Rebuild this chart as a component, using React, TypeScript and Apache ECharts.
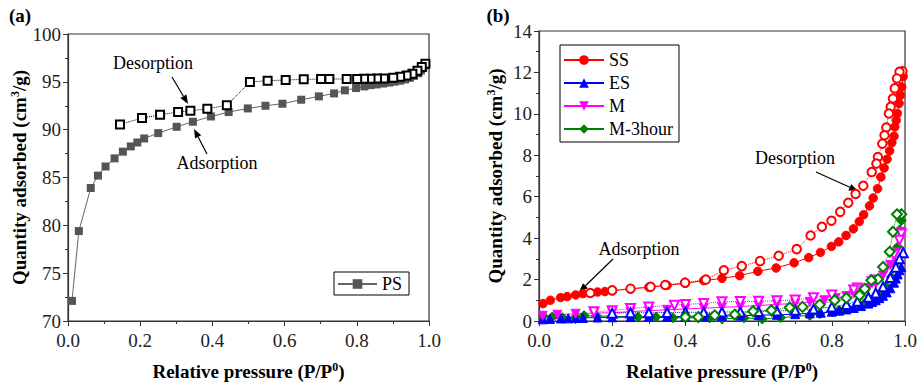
import React, { useEffect, useRef } from "react";
import * as echarts from "echarts";

// ---------- Panel (a): PS ----------
const psAdsX = [0.011, 0.030, 0.063, 0.083, 0.104, 0.129, 0.152, 0.174, 0.192, 0.211, 0.250, 0.301, 0.346, 0.396, 0.445, 0.498, 0.547, 0.594, 0.646, 0.695, 0.737, 0.767, 0.798, 0.821, 0.838, 0.855, 0.873, 0.890, 0.905, 0.920, 0.934, 0.947, 0.958, 0.970, 0.978, 0.984, 0.989, 0.992];
const psAdsY = [72.1, 79.4, 83.9, 85.2, 86.15, 87.0, 87.7, 88.25, 88.66, 89.08, 89.64, 90.30, 90.83, 91.38, 91.84, 92.22, 92.50, 92.71, 93.13, 93.48, 93.79, 94.11, 94.35, 94.52, 94.66, 94.73, 94.82, 94.92, 95.02, 95.12, 95.25, 95.42, 95.62, 95.9, 96.2, 96.5, 96.75, 96.97];
const psDesX = [0.990, 0.980, 0.968, 0.954, 0.938, 0.920, 0.901, 0.875, 0.856, 0.838, 0.820, 0.801, 0.772, 0.724, 0.701, 0.653, 0.603, 0.553, 0.504, 0.440, 0.386, 0.339, 0.305, 0.255, 0.205, 0.144];
const psDesY = [96.9, 96.55, 96.16, 95.85, 95.67, 95.53, 95.43, 95.36, 95.34, 95.33, 95.32, 95.30, 95.29, 95.29, 95.29, 95.26, 95.19, 95.12, 94.98, 92.54, 92.19, 91.98, 91.84, 91.56, 91.21, 90.55];

// ---------- Panel (b) ----------
const ssAdsX = [0.011, 0.031, 0.059, 0.077, 0.10, 0.12, 0.16, 0.18, 0.20, 0.25, 0.30, 0.35, 0.40, 0.45, 0.50, 0.548, 0.598, 0.648, 0.697, 0.737, 0.769, 0.799, 0.819, 0.839, 0.859, 0.875, 0.887, 0.903, 0.913, 0.925, 0.934, 0.943, 0.951, 0.958, 0.964, 0.970, 0.972, 0.976, 0.979, 0.984, 0.988, 0.991, 0.995];
const ssAdsY = [0.84, 1.0, 1.13, 1.18, 1.26, 1.32, 1.40, 1.42, 1.46, 1.55, 1.63, 1.72, 1.82, 1.95, 2.06, 2.19, 2.40, 2.56, 2.81, 3.06, 3.31, 3.60, 3.82, 4.13, 4.45, 4.80, 5.13, 5.56, 5.94, 6.39, 6.95, 7.39, 7.81, 8.21, 8.61, 8.92, 9.37, 9.69, 10.02, 10.5, 10.9, 11.3, 11.8];
const ssDesX = [0.993, 0.985, 0.978, 0.972, 0.967, 0.961, 0.956, 0.949, 0.944, 0.938, 0.926, 0.922, 0.909, 0.886, 0.865, 0.845, 0.823, 0.799, 0.773, 0.742, 0.704, 0.655, 0.604, 0.554, 0.505, 0.456, 0.399, 0.345, 0.305, 0.25, 0.20, 0.14];
const ssDesY = [12.06, 12.03, 11.71, 11.23, 10.74, 10.34, 10.02, 9.34, 8.97, 8.56, 7.92, 7.6, 7.19, 6.53, 6.13, 5.71, 5.27, 4.84, 4.55, 4.13, 3.47, 3.15, 2.89, 2.65, 2.45, 2.0, 1.85, 1.74, 1.65, 1.56, 1.48, 1.35];

const esAdsX = [0.01, 0.03, 0.06, 0.08, 0.10, 0.12, 0.16, 0.20, 0.25, 0.30, 0.35, 0.40, 0.45, 0.50, 0.55, 0.60, 0.65, 0.70, 0.74, 0.77, 0.80, 0.82, 0.84, 0.86, 0.88, 0.90, 0.91, 0.92, 0.93, 0.94, 0.95, 0.96, 0.97, 0.975, 0.98, 0.985, 0.99];
const esAdsY = [0.08, 0.10, 0.12, 0.13, 0.14, 0.15, 0.17, 0.18, 0.19, 0.20, 0.21, 0.22, 0.23, 0.24, 0.26, 0.28, 0.30, 0.33, 0.37, 0.40, 0.45, 0.50, 0.56, 0.63, 0.72, 0.84, 0.92, 1.0, 1.1, 1.22, 1.38, 1.58, 1.85, 2.05, 2.25, 2.45, 2.6];
const esDesX = [0.995, 0.985, 0.975, 0.96, 0.94, 0.92, 0.90, 0.87, 0.84, 0.80, 0.75, 0.70, 0.65, 0.60, 0.55, 0.50, 0.45, 0.40, 0.35, 0.30, 0.25, 0.20];
const esDesY = [3.3, 3.0, 2.6, 2.1, 1.65, 1.35, 1.15, 0.95, 0.8, 0.68, 0.58, 0.52, 0.48, 0.46, 0.44, 0.43, 0.42, 0.42, 0.41, 0.40, 0.40, 0.38];

const mAdsX = [0.01, 0.05, 0.10, 0.15, 0.20, 0.25, 0.30, 0.35, 0.40, 0.45, 0.50, 0.55, 0.60, 0.65, 0.70, 0.74, 0.78, 0.81, 0.84, 0.86, 0.88, 0.90, 0.92, 0.94, 0.96, 0.975, 0.985, 0.99];
const mAdsY = [0.25, 0.30, 0.35, 0.38, 0.40, 0.45, 0.50, 0.54, 0.58, 0.62, 0.66, 0.70, 0.75, 0.80, 0.85, 0.92, 1.0, 1.1, 1.2, 1.32, 1.45, 1.6, 1.8, 2.2, 2.7, 3.3, 3.9, 4.3];
const mDesX = [0.99, 0.985, 0.97, 0.945, 0.918, 0.91, 0.87, 0.86, 0.80, 0.75, 0.70, 0.65, 0.60, 0.55, 0.50, 0.45, 0.40, 0.37, 0.30, 0.25, 0.20, 0.15];
const mDesY = [4.2, 3.9, 3.2, 2.46, 1.98, 1.9, 1.59, 1.5, 1.25, 1.12, 1.01, 0.98, 0.95, 0.94, 0.93, 0.85, 0.80, 0.76, 0.68, 0.60, 0.50, 0.45];

const m3AdsX = [0.011, 0.036, 0.064, 0.10, 0.123, 0.157, 0.20, 0.27, 0.32, 0.366, 0.466, 0.50, 0.56, 0.61, 0.66, 0.74, 0.767, 0.80, 0.82, 0.845, 0.867, 0.89, 0.912, 0.935, 0.949, 0.963, 0.972, 0.98, 0.985, 0.99];
const m3AdsY = [0.24, 0.19, 0.16, 0.19, 0.26, 0.24, 0.23, 0.19, 0.19, 0.16, 0.15, 0.11, 0.15, 0.10, 0.16, 0.27, 0.35, 0.45, 0.52, 0.6, 0.68, 0.84, 1.0, 1.32, 1.65, 2.13, 2.77, 3.58, 4.39, 4.85];
const m3DesX = [0.99, 0.978, 0.967, 0.958, 0.94, 0.926, 0.908, 0.89, 0.876, 0.84, 0.808, 0.767, 0.72, 0.685, 0.635, 0.585, 0.535, 0.48, 0.435, 0.40];
const m3DesY = [5.15, 5.15, 4.31, 3.34, 2.61, 2.02, 1.97, 1.55, 1.24, 1.11, 1.0, 0.79, 0.68, 0.65, 0.52, 0.47, 0.31, 0.27, 0.19, 0.19];

const zip = (xs: number[], ys: number[]) => xs.map((x, i) => [x, ys[i]]);

const FONT = "'Liberation Serif', 'Times New Roman', serif";
const AX = "#333";

function arrow(x1: number, y1: number, x2: number, y2: number) {
  const a = Math.atan2(y2 - y1, x2 - x1);
  const L = 9, W = 3.5;
  const c = Math.cos(a), s = Math.sin(a);
  const bx = x2 - L * c, by = y2 - L * s;
  return [
    { type: "line", shape: { x1, y1, x2: bx, y2: by }, style: { stroke: "#000", lineWidth: 1.2 } },
    { type: "polygon", shape: { points: [[x2, y2], [bx + W * s, by - W * c], [bx - W * s, by + W * c]] }, style: { fill: "#000" } },
  ];
}

function label(text: string, x: number, y: number, bold = false, size = 18) {
  return {
    type: "text", x, y,
    style: { text, font: `${bold ? "bold " : ""}${size}px ${FONT}`, fill: "#000", textAlign: "center", textVerticalAlign: "middle" },
  };
}

function xAxisCfg(gi: number) {
  return {
    type: "value", gridIndex: gi, min: 0, max: 1, interval: 0.2,
    axisLine: { lineStyle: { color: AX, width: 1.2 } },
    axisTick: { inside: false, length: 5, lineStyle: { color: AX } },
    minorTick: { show: true, splitNumber: 2, length: 3, lineStyle: { color: AX } },
    splitLine: { show: false },
    axisLabel: { fontFamily: FONT, fontSize: 19, color: "#222", margin: 10, formatter: (v: number) => v.toFixed(1) },
    name: "{a|Relative pressure (P/P}{s|0}{a|)}",
    nameLocation: "middle", nameGap: 40,
    nameTextStyle: {
      rich: {
        a: { fontFamily: FONT, fontSize: 19, fontWeight: "bold", color: "#000" },
        s: { fontFamily: FONT, fontSize: 12, fontWeight: "bold", color: "#000", verticalAlign: "top", padding: [0, 0, 8, 0] },
      },
    },
  };
}

function yAxisCfg(gi: number, min: number, max: number, interval: number, gap: number) {
  return {
    type: "value", gridIndex: gi, min, max, interval,
    axisLine: { show: true, lineStyle: { color: AX, width: 1.2 } },
    axisTick: { show: true, inside: false, length: 5, lineStyle: { color: AX } },
    minorTick: { show: true, splitNumber: 2, length: 3, lineStyle: { color: AX } },
    splitLine: { show: false },
    axisLabel: { fontFamily: FONT, fontSize: 19, color: "#222", margin: 7 },
    name: "{a|Quantity adsorbed (cm}{s|3}{a|/g)}",
    nameLocation: "middle", nameGap: gap, nameRotate: 90,
    nameTextStyle: {
      rich: {
        a: { fontFamily: FONT, fontSize: 19, fontWeight: "bold", color: "#000" },
        s: { fontFamily: FONT, fontSize: 12, fontWeight: "bold", color: "#000", verticalAlign: "top", padding: [0, 0, 8, 0] },
      },
    },
  };
}

export default function App() {
  const ref = useRef<HTMLDivElement>(null);
  useEffect(() => {
    if (!ref.current) return;
    const chart = echarts.init(ref.current, null, { renderer: "svg" });
    const RED = "#ff0000", BLUE = "#0000ff", MAG = "#ff00ff", GRN = "#008000";
    const ads = (name: string, xs: number[], ys: number[], color: string, symbol: string, rot = 0, size = 8) => ({
      name, type: "line", xAxisIndex: 1, yAxisIndex: 1, data: zip(xs, ys),
      symbol, symbolRotate: rot, symbolSize: size,
      itemStyle: { color, borderColor: color },
      lineStyle: { color, width: 1 },
    });
    const des = (name: string, xs: number[], ys: number[], color: string, symbol: string, rot = 0, size = 8) => ({
      name, type: "line", xAxisIndex: 1, yAxisIndex: 1, data: zip(xs, ys),
      symbol, symbolRotate: rot, symbolSize: size,
      itemStyle: { color, borderColor: color, borderWidth: 1 },
      lineStyle: { color, width: 1, type: "dotted" },
    });
    chart.setOption({
      animation: false,
      backgroundColor: "#fff",
      grid: [
        { left: 68, right: 492, top: 34, bottom: 67, show: true, borderColor: AX, borderWidth: 1.2, containLabel: false },
        { left: 539, right: 16, top: 31, bottom: 67, show: true, borderColor: AX, borderWidth: 1.2, containLabel: false },
      ],
      xAxis: [xAxisCfg(0), xAxisCfg(1)],
      yAxis: [yAxisCfg(0, 70, 100, 5, 38), yAxisCfg(1, 0, 14, 2, 34)],
      legend: [
        {
          data: ["PS"], left: 334, top: 272, orient: "vertical",
          borderColor: "#000", borderWidth: 1, padding: [3, 7, 2, 3],
          itemWidth: 39, itemHeight: 12, itemGap: 4,
          textStyle: { fontFamily: FONT, fontSize: 18, color: "#000", lineHeight: 18 },
          selectedMode: false,
        },
        {
          data: ["SS", "ES", "M", "M-3hour"], left: 560, top: 45, orient: "vertical",
          borderColor: "#000", borderWidth: 1, padding: [6, 6, 4, 3],
          itemWidth: 40, itemHeight: 12, itemGap: 5,
          textStyle: { fontFamily: FONT, fontSize: 18, color: "#000", lineHeight: 18 },
          selectedMode: false,
        },
      ],
      series: [
        {
          name: "PS", type: "line", xAxisIndex: 0, yAxisIndex: 0, data: zip(psAdsX, psAdsY),
          symbol: "rect", symbolSize: 8, itemStyle: { color: "#555" }, lineStyle: { color: "#666", width: 1 },
        },
        {
          name: "PS desorption", type: "line", xAxisIndex: 0, yAxisIndex: 0, data: zip(psDesX, psDesY),
          symbol: "emptyRect", symbolSize: 8, itemStyle: { color: "#000", borderColor: "#222", borderWidth: 1 },
          lineStyle: { color: "#000", width: 1, type: "dotted" },
        },
        ads("M-3hour", m3AdsX, m3AdsY, GRN, "diamond", 0, 10),
        ads("ES", esAdsX, esAdsY, BLUE, "triangle", 0, 9),
        ads("M", mAdsX, mAdsY, MAG, "triangle", 180, 9),
        des("M desorption", mDesX, mDesY, MAG, "emptyTriangle", 180, 9),
        des("ES desorption", esDesX, esDesY, BLUE, "emptyTriangle", 0, 9),
        des("M-3hour desorption", m3DesX, m3DesY, GRN, "emptyDiamond", 0, 10),
        ads("SS", ssAdsX, ssAdsY, RED, "circle", 0, 8.5),
        des("SS desorption", ssDesX, ssDesY, RED, "emptyCircle", 0, 8.5),
      ],
      graphic: [
        label("(a)", 20, 15, true, 19),
        label("(b)", 498, 15, true, 19),
        label("Desorption", 153, 63),
        ...arrow(172, 77, 188, 104),
        label("Adsorption", 217, 163),
        ...arrow(207, 154, 194, 129),
        label("Desorption", 795, 158),
        ...arrow(816, 172, 858, 191),
        label("Adsorption", 639, 249),
        ...arrow(613, 259, 579, 292),
      ],
    });
    return () => chart.dispose();
  }, []);
  return <div ref={ref} style={{ position: "absolute", left: 0, top: 0, width: 921, height: 388 }} />;
}
